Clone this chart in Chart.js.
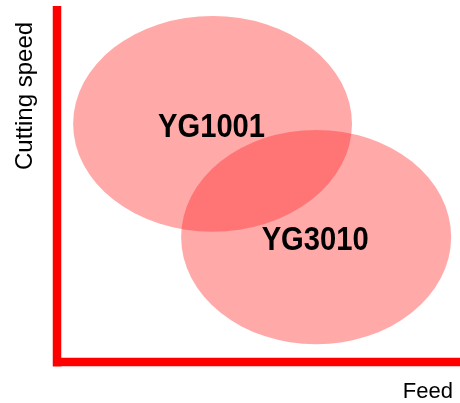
<!DOCTYPE html>
<html>
<head>
<meta charset="utf-8">
<script src="https://cdn.jsdelivr.net/npm/chart.js@4/dist/chart.umd.min.js"></script>
<style>
  html, body { margin: 0; padding: 0; background: #ffffff; }
  #wrap { width: 460px; height: 403px; }
</style>
</head>
<body>
<div id="wrap"><canvas id="c" width="460" height="403"></canvas></div>
<script>
// ---- data (abstract units, 0-100 on both axes) ----
const grades = ['YG1001', 'YG3010'];
const feedCenter = [38.6, 64.3];
const speedCenter = [66.9, 35.1];
const feedSpread = [34.6, 33.5];
const speedSpread = [30.3, 30.1];
const xTitle = 'Feed';
const yTitle = 'Cutting speed';

const fillColor = 'rgba(255, 40, 40, 0.40)';
const axisColor = '#ff0000';

const ellipsePlugin = {
  id: 'ellipses',
  afterDatasetsDraw(chart) {
    const ctx = chart.ctx;
    const xs = chart.scales.x, ys = chart.scales.y;
    const ca = chart.chartArea;
    ctx.save();
    // ellipses
    grades.forEach((g, i) => {
      const cx = xs.getPixelForValue(feedCenter[i]);
      const cy = ys.getPixelForValue(speedCenter[i]);
      const rx = Math.abs(xs.getPixelForValue(feedCenter[i] + feedSpread[i]) - cx);
      const ry = Math.abs(ys.getPixelForValue(speedCenter[i] + speedSpread[i]) - cy);
      ctx.beginPath();
      ctx.ellipse(cx, cy, rx, ry, 0, 0, Math.PI * 2);
      ctx.fillStyle = fillColor;
      ctx.fill();
    });
    // axes
    ctx.strokeStyle = axisColor;
    ctx.lineWidth = 8.5;
    ctx.lineCap = 'butt';
    ctx.beginPath();
    ctx.moveTo(ca.left, ca.top);
    ctx.lineTo(ca.left, ca.bottom + 4.5);
    ctx.moveTo(ca.left - 4.25, ca.bottom);
    ctx.lineTo(ca.right, ca.bottom);
    ctx.stroke();
    // labels
    grades.forEach((g, i) => {
      const cx = xs.getPixelForValue(feedCenter[i]);
      const cy = ys.getPixelForValue(speedCenter[i]);
      ctx.font = 'bold 33px "Liberation Sans", Arial, sans-serif';
      const w = ctx.measureText(g).width;
      const sx = 107 / w;
      ctx.save();
      ctx.translate(cx - 1, cy + 13);
      ctx.scale(sx, 1);
      ctx.fillStyle = '#000';
      ctx.textAlign = 'center';
      ctx.textBaseline = 'alphabetic';
      ctx.fillText(g, 0, 0);
      ctx.restore();
    });
    // axis titles
    ctx.fillStyle = '#000';
    ctx.font = '22px "Liberation Sans", Arial, sans-serif';
    ctx.textAlign = 'right';
    ctx.textBaseline = 'alphabetic';
    ctx.fillText(xTitle, 453, 398);
    ctx.save();
    ctx.font = '24px "Liberation Sans", Arial, sans-serif';
    ctx.translate(32, 170);
    ctx.rotate(-Math.PI / 2);
    ctx.textAlign = 'left';
    ctx.fillText(yTitle, 0, 0);
    ctx.restore();
    ctx.restore();
  }
};

new Chart(document.getElementById('c'), {
  type: 'scatter',
  data: {
    datasets: [{
      data: grades.map((g, i) => ({ x: feedCenter[i], y: speedCenter[i] })),
      pointRadius: 0,
      pointHoverRadius: 0
    }]
  },
  options: {
    responsive: false,
    animation: false,
    events: [],
    layout: { padding: { left: 57, top: 6, right: 0, bottom: 41 } },
    plugins: { legend: { display: false }, tooltip: { enabled: false } },
    scales: {
      x: { display: false, min: 0, max: 100 },
      y: { display: false, min: 0, max: 100 }
    }
  },
  plugins: [ellipsePlugin]
});
</script>
</body>
</html>
